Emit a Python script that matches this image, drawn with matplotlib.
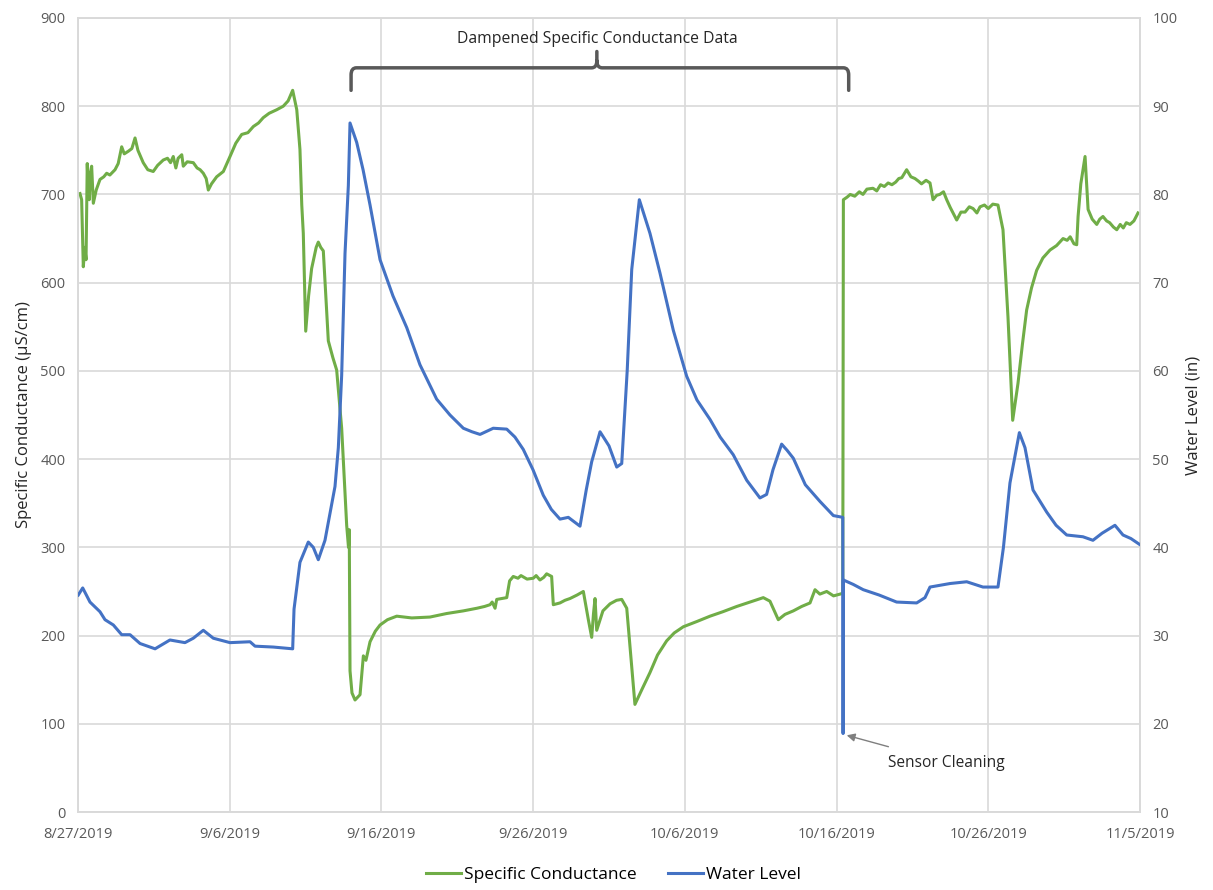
import matplotlib
matplotlib.use("Agg")
import matplotlib.pyplot as plt
import matplotlib.dates as mdates
from matplotlib.path import Path
from matplotlib.patches import PathPatch
from matplotlib.lines import Line2D
import pandas as pd

plt.rcParams['font.family'] = ['Open Sans', 'DejaVu Sans']

start_date = "2019-08-27"
tick_labels = ["8/27/2019", "9/6/2019", "9/16/2019", "9/26/2019", "10/6/2019",
               "10/16/2019", "10/26/2019", "11/5/2019"]

# Specific conductance (uS/cm), day offset from 8/27/2019
sc_days = [0.13, 0.24, 0.35, 0.45, 0.53, 0.61, 0.68, 0.74, 0.82, 0.90, 1.01, 1.20, 1.45, 1.70,
           1.89, 2.10, 2.44, 2.65, 2.88, 3.05, 3.32, 3.55, 3.76, 3.95, 4.30, 4.60, 4.96, 5.25,
           5.62, 5.90, 6.10, 6.28, 6.45, 6.60, 6.84, 6.94, 7.20, 7.60, 7.85, 8.05, 8.26, 8.45,
           8.59, 8.80, 9.14, 9.58, 10.02, 10.40, 10.79, 11.20, 11.56, 11.90, 12.21, 12.60,
           13.10, 13.53, 13.85, 14.15, 14.42, 14.63, 14.75, 14.85, 15.01, 15.20, 15.40, 15.70,
           15.84, 16.00, 16.17, 16.50, 16.80, 17.05, 17.38, 17.71, 17.83, 17.88, 17.93, 18.06,
           18.26, 18.59, 18.81, 18.98, 19.25, 19.60, 19.91, 20.40, 21.01, 22.00, 23.20, 24.30,
           25.40, 26.30, 26.80, 27.16, 27.30, 27.49, 27.60, 28.26, 28.45, 28.69, 29.00, 29.20,
           29.60, 30.01, 30.20, 30.45, 30.70, 30.89, 31.22, 31.33, 31.77, 32.10, 32.43, 32.90,
           33.31, 33.64, 33.86, 33.98, 34.08, 34.19, 34.60, 35.07, 35.50, 35.84, 36.17, 36.71,
           37.20, 37.70, 38.20, 38.80, 39.30, 39.90, 40.80, 41.66, 42.50, 43.42, 44.30, 45.17,
           45.61, 46.16, 46.60, 47.15, 47.70, 48.25, 48.58, 48.90, 49.35, 49.80, 50.23, 50.41,
           50.45, 50.70, 50.90, 51.20, 51.50, 51.74, 52.00, 52.40, 52.65, 52.90, 53.15, 53.40,
           53.65, 53.90, 54.10, 54.30, 54.62, 54.90, 55.17, 55.40, 55.60, 55.90, 56.16, 56.36,
           56.60, 56.80, 57.05, 57.26, 57.50, 57.92, 58.20, 58.47, 58.75, 59.00, 59.25, 59.46,
           59.75, 60.00, 60.30, 60.64, 60.97, 61.30, 61.61, 61.96, 62.25, 62.53, 62.85, 63.19,
           63.60, 64.07, 64.50, 64.93, 65.20, 65.40, 65.65, 65.83, 65.92, 66.10, 66.38, 66.58,
           66.85, 67.15, 67.35, 67.56, 67.80, 68.00, 68.25, 68.47, 68.70, 68.90, 69.10, 69.34,
           69.60, 69.87]
sc_vals = [701, 694, 618, 640, 626, 735, 700, 694, 725, 732, 690, 705, 717, 720,
           724, 722, 728, 735, 754, 746, 749, 752, 764, 750, 736, 728, 726, 733,
           739, 741, 736, 743, 730, 741, 745, 732, 737, 736, 730, 728, 724, 718,
           705, 712, 720, 726, 743, 758, 768, 770, 777, 781, 787, 792,
           796, 800, 806, 818, 796, 751, 688, 656, 545, 585, 616, 640,
           646, 640, 636, 534, 515, 501, 435, 325, 300, 320, 160, 135,
           127, 133, 177, 172, 193, 205, 212, 218, 222, 220, 221, 225,
           228, 231, 233, 235, 238, 231, 241, 243, 262, 267, 265, 268,
           264, 265, 268, 263, 266, 270, 267, 235, 237, 240, 242, 246,
           250, 218, 198, 225, 242, 206, 228, 236, 240, 241, 231, 122,
           140, 158, 178, 194, 203, 210, 216, 222, 227, 233, 238, 243,
           239, 218, 224, 228, 233, 237, 252, 247, 250, 245, 247, 248,
           694, 697, 700, 698, 703, 700, 706, 707, 704, 711, 709, 713,
           711, 714, 718, 719, 728, 720, 718, 715, 712, 716, 713, 694,
           699, 700, 703, 694, 685, 671, 680, 680, 686, 684, 679, 686,
           688, 684, 689, 688, 660, 561, 444, 486, 530, 569, 594, 614,
           628, 637, 642, 650, 648, 652, 644, 643, 675, 712, 743, 683,
           672, 666, 672, 675, 670, 668, 663, 660, 666, 662, 668, 666,
           670, 679]

# Water level (in), day offset from 8/27/2019
wl_days = [0.02, 0.31, 0.79, 1.45, 1.78, 2.33, 2.88, 3.43, 4.09, 5.08, 6.06, 7.05, 7.60, 8.26,
           8.92, 10.02, 11.34, 11.67, 12.87, 14.15, 14.24, 14.63, 15.18, 15.51, 15.84, 16.28,
           16.94, 17.16, 17.38, 17.60, 17.82, 17.93, 18.37, 18.79, 19.25, 19.91, 20.76, 21.67,
           22.54, 23.64, 24.52, 25.40, 25.97, 26.50, 27.00, 27.37, 28.26, 28.80, 29.35, 29.99,
           30.67, 31.20, 31.77, 32.32, 33.09, 33.50, 33.86, 34.41, 35.00, 35.51, 35.84, 36.20,
           36.50, 37.00, 37.70, 38.36, 39.24, 40.12, 40.80, 41.66, 42.33, 43.19, 44.08, 44.95,
           45.39, 45.81, 46.38, 46.74, 47.15, 47.94, 48.91, 49.79, 50.41, 50.43, 50.45, 51.10,
           51.76, 52.80, 53.96, 55.28, 55.83, 56.16, 57.48, 58.58, 59.65, 60.64, 61.00, 61.43,
           62.05, 62.42, 62.95, 63.85, 64.47, 65.17, 66.24, 66.90, 67.50, 68.35, 68.88, 69.40,
           70.00]
wl_vals = [34.6, 35.4, 33.8, 32.7, 31.8, 31.2, 30.1, 30.1, 29.1, 28.5, 29.5, 29.2, 29.7, 30.6,
           29.7, 29.2, 29.3, 28.8, 28.7, 28.5, 33.0, 38.3, 40.6, 40.0, 38.6, 40.8,
           46.9, 51.3, 59.5, 73.3, 81.0, 88.1, 85.9, 82.8, 78.8, 72.6, 68.5, 64.9,
           60.7, 56.8, 55.0, 53.5, 53.1, 52.8, 53.2, 53.5, 53.4, 52.5, 51.1, 48.8,
           45.9, 44.3, 43.2, 43.4, 42.4, 46.5, 49.7, 53.1, 51.5, 49.1, 49.5, 60.0,
           71.5, 79.4, 75.6, 71.1, 64.6, 59.4, 56.7, 54.5, 52.5, 50.5, 47.6, 45.6,
           46.0, 48.8, 51.7, 51.0, 50.1, 47.1, 45.2, 43.6, 43.4, 18.9, 36.3, 35.8,
           35.2, 34.6, 33.8, 33.7, 34.3, 35.5, 35.9, 36.1, 35.5, 35.5, 40.0, 47.3,
           53.0, 51.3, 46.5, 44.0, 42.5, 41.4, 41.2, 40.8, 41.6, 42.5, 41.4, 41.0,
           40.3]

base = pd.Timestamp(start_date)
sc_t = base + pd.to_timedelta(sc_days, unit="D")
wl_t = base + pd.to_timedelta(wl_days, unit="D")
tick_t = [base + pd.Timedelta(days=10 * i) for i in range(len(tick_labels))]

GREEN = "#70AD47"
BLUE = "#4472C4"
GRID = "#d9d9d9"
TXT = "#595959"

fig = plt.figure(figsize=(12.13, 8.90), dpi=100)
ax = fig.add_axes([0.0643, 0.0876, 0.8755, 0.8922])
ax2 = ax.twinx()

ax.plot(sc_t, sc_vals, color=GREEN, lw=2.2, zorder=3, solid_joinstyle="round")
ax2.plot(wl_t, wl_vals, color=BLUE, lw=2.2, zorder=3, solid_joinstyle="round")

ax.set_xlim(tick_t[0], tick_t[-1])
ax.set_ylim(0, 900)
ax2.set_ylim(10, 100)
ax.set_yticks(range(0, 901, 100))
ax2.set_yticks(range(10, 101, 10))
ax.set_xticks(tick_t)
ax.set_xticklabels(tick_labels)

ax.grid(True, color=GRID, lw=1.2, zorder=0)
ax.set_axisbelow(True)
for a in (ax, ax2):
    for s in a.spines.values():
        s.set_color(GRID)
        s.set_linewidth(1.2)
    a.tick_params(length=0, colors=TXT, labelsize=10.5)
ax.tick_params(axis="x", pad=11)
ax.tick_params(axis="y", pad=9)
ax2.tick_params(axis="y", pad=9)

ax.set_ylabel("Specific Conductance (µS/cm)", fontsize=12, color="#262626", labelpad=6)
ax2.set_ylabel("Water Level (in)", fontsize=12, color="#262626", labelpad=6)

# bracket annotation (data coords: days, uS/cm)
def d2n(d):
    return mdates.date2num(base + pd.Timedelta(days=d))

xl, xc, xr = d2n(18.0), d2n(34.2), d2n(50.8)
dx = d2n(0.35) - d2n(0)
y_end, y_top, y_tip = 818, 843.5, 862
verts = [(xl, y_end), (xl, y_top - 8), (xl, y_top), (xl + dx, y_top),
         (xc - dx, y_top), (xc, y_top), (xc, y_top + 8), (xc, y_tip),
         (xc, y_top + 8), (xc, y_top), (xc + dx, y_top),
         (xr - dx, y_top), (xr, y_top), (xr, y_top - 8), (xr, y_end)]
codes = [Path.MOVETO, Path.LINETO, Path.CURVE3, Path.CURVE3,
         Path.LINETO, Path.CURVE3, Path.CURVE3, Path.LINETO,
         Path.MOVETO, Path.CURVE3, Path.CURVE3,
         Path.LINETO, Path.CURVE3, Path.CURVE3, Path.LINETO]
ax.add_patch(PathPatch(Path(verts, codes), fill=False, ec="#595959", lw=2.5,
                       capstyle="round", joinstyle="round", zorder=4, clip_on=False))
ax.text(xc, 876, "Dampened Specific Conductance Data", ha="center", va="center",
        fontsize=11.3, color="#262626")

ax2.annotate("Sensor Cleaning", xy=(d2n(50.67), 18.7), xytext=(d2n(53.4), 15.6),
             fontsize=11.2, color="#262626", va="center", ha="left",
             arrowprops=dict(arrowstyle="-|>", color="#7f7f7f", lw=1.0,
                             shrinkA=14, shrinkB=0, mutation_scale=12))

handles = [Line2D([], [], color=GREEN, lw=2.2), Line2D([], [], color=BLUE, lw=2.2)]
fig.legend(handles, ["Specific Conductance", "Water Level"], loc="center",
           bbox_to_anchor=(0.506, 0.0165), ncol=2, frameon=False, fontsize=12.5,
           handlelength=2.0, handletextpad=0.2, columnspacing=1.8)

fig.savefig("out.png", dpi=100)
